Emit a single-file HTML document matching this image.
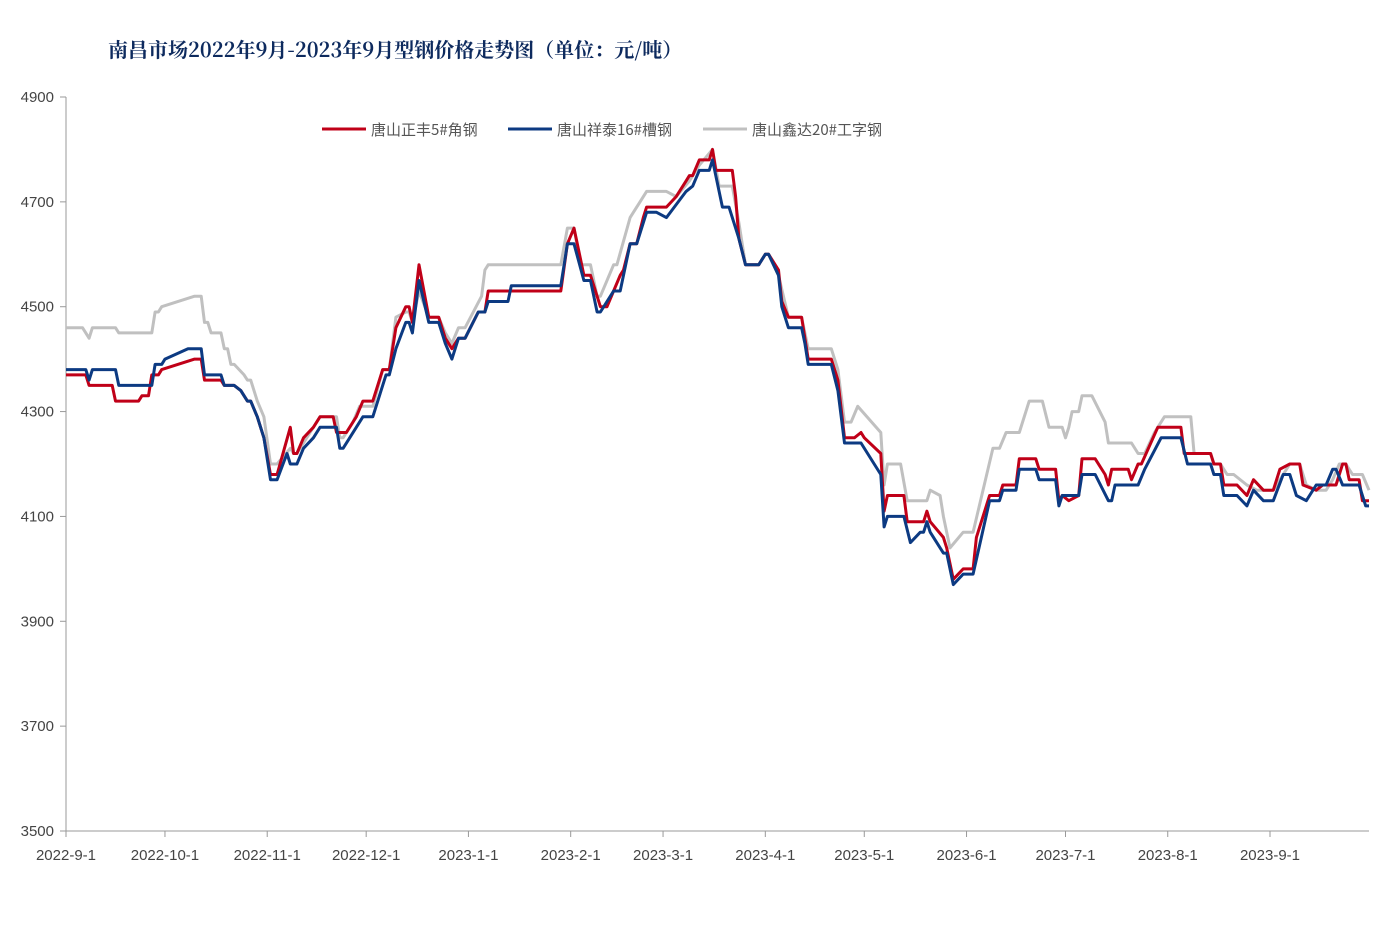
<!DOCTYPE html>
<html><head><meta charset="utf-8">
<style>
body{margin:0;background:#fff;}
svg{display:block;}
.tk{font-family:"Liberation Sans","Noto Sans CJK SC",sans-serif;font-size:15px;fill:#444;}
</style></head>
<body>
<svg id="chart" width="1393" height="929" xmlns="http://www.w3.org/2000/svg">
<text x="108" y="57" font-family="'Noto Serif CJK SC','Noto Sans CJK SC',serif" font-weight="bold" font-size="20" fill="#0d2a5e">南昌市场2022年9月-2023年9月型钢价格走势图（单位：元/吨）</text>
<g font-family="'Noto Sans CJK SC','Liberation Sans',sans-serif" font-size="15" fill="#555">
<g><line x1="322" y1="129" x2="366" y2="129" stroke="#c00018" stroke-width="3"/><text x="371" y="135">唐山正丰5#角钢</text></g>
<g><line x1="508" y1="129" x2="552" y2="129" stroke="#0c3a82" stroke-width="3"/><text x="557" y="135">唐山祥泰16#槽钢</text></g>
<g><line x1="703" y1="129" x2="747" y2="129" stroke="#c0c0c0" stroke-width="3"/><text x="752" y="135">唐山鑫达20#工字钢</text></g>
</g>
<g id="axes"></g>
<g id="series"></g>
</svg>
<script>
const yTicks=[3500,3700,3900,4100,4300,4500,4700,4900];
const xTickLabels=["2022-9-1","2022-10-1","2022-11-1","2022-12-1","2023-1-1","2023-2-1","2023-3-1","2023-4-1","2023-5-1","2023-6-1","2023-7-1","2023-8-1","2023-9-1"];
const xTickDays=[0,30,61,91,122,153,181,212,242,273,303,334,365];
// days since 2022-09-01
const angleDays=[0,6,7,14,15,22,23,25,26,28,29,39,41,42,47,48,51,53,55,56,58,60,62,64,68,69,70,72,75,77,81,82,85,88,90,93,96,98,100,103,104,105,107,110,113,115,117,119,121,125,127,128,150,152,154,155,157,159,161,162,164,166,168,169,171,173,175,176,182,185,188,189,190,192,195,196,197,202,203,204,206,210,212,213,216,217,219,223,225,232,234,236,239,241,242,247,248,249,254,255,260,261,262,266,267,269,272,275,276,280,283,284,288,289,294,295,300,301,302,304,307,308,312,315,316,317,322,323,325,326,331,338,339,347,348,350,351,355,358,360,363,366,368,371,374,375,379,381,385,387,388,389,392,393,395];
const angleVals=[4370,4370,4350,4350,4320,4320,4330,4330,4370,4370,4380,4400,4400,4360,4360,4350,4350,4340,4320,4320,4290,4250,4180,4180,4270,4220,4220,4250,4270,4290,4290,4260,4260,4290,4320,4320,4380,4380,4460,4500,4500,4470,4580,4480,4480,4440,4420,4440,4440,4490,4490,4530,4530,4620,4650,4620,4560,4560,4520,4500,4500,4530,4560,4570,4620,4620,4670,4690,4690,4710,4740,4750,4750,4780,4780,4800,4760,4760,4710,4630,4580,4580,4600,4600,4570,4510,4480,4480,4400,4400,4360,4250,4250,4260,4250,4220,4110,4140,4140,4090,4090,4110,4090,4060,4040,3980,4000,4000,4060,4140,4140,4160,4160,4210,4210,4190,4190,4130,4140,4130,4140,4210,4210,4180,4160,4190,4190,4170,4200,4200,4270,4270,4220,4220,4200,4200,4160,4160,4140,4170,4150,4150,4190,4200,4200,4160,4150,4160,4160,4200,4200,4170,4170,4130,4130];
const channelDays=[0,6,7,8,15,16,26,27,29,30,37,41,42,47,48,51,53,55,56,58,60,62,64,67,68,70,72,75,77,82,83,84,86,88,90,93,97,98,100,103,104,105,107,110,113,115,117,119,121,125,127,128,134,135,150,152,154,157,159,161,162,166,168,171,173,175,176,179,182,188,190,192,195,196,199,201,204,206,210,212,213,216,217,219,223,224,225,232,234,236,241,247,248,249,254,256,259,260,261,262,266,267,269,272,275,280,283,284,288,289,294,295,300,301,302,307,308,312,316,317,318,325,327,332,338,340,347,348,350,351,355,358,360,363,366,369,371,373,376,379,382,384,385,387,392,394,395];
const channelVals=[4380,4380,4360,4380,4380,4350,4350,4390,4390,4400,4420,4420,4370,4370,4350,4350,4340,4320,4320,4290,4250,4170,4170,4220,4200,4200,4230,4250,4270,4270,4230,4230,4250,4270,4290,4290,4370,4370,4420,4470,4470,4450,4550,4470,4470,4430,4400,4440,4440,4490,4490,4510,4510,4540,4540,4620,4620,4550,4550,4490,4490,4530,4530,4620,4620,4660,4680,4680,4670,4720,4730,4760,4760,4780,4690,4690,4630,4580,4580,4600,4600,4560,4500,4460,4460,4430,4390,4390,4340,4240,4240,4180,4080,4100,4100,4050,4070,4070,4090,4070,4030,4030,3970,3990,3990,4130,4130,4150,4150,4190,4190,4170,4170,4120,4140,4140,4180,4180,4130,4130,4160,4160,4190,4250,4250,4200,4200,4180,4180,4140,4140,4120,4150,4130,4130,4180,4180,4140,4130,4160,4160,4190,4190,4160,4160,4120,4120];
const ibeamDays=[0,5,7,8,15,16,26,27,28,29,39,41,42,43,44,47,48,49,50,51,54,55,56,58,60,62,64,68,69,70,74,77,82,83,84,87,89,93,96,98,100,103,104,105,107,110,113,115,117,119,121,126,127,128,150,152,154,156,159,161,162,166,167,171,174,176,182,185,189,192,196,198,202,204,206,210,212,213,216,219,223,225,232,234,236,238,240,247,248,249,253,255,261,262,265,266,268,272,275,281,283,285,289,292,296,298,302,303,304,305,307,308,311,315,316,323,325,327,330,333,341,342,347,348,350,352,354,358,361,366,371,374,376,379,382,384,386,388,390,393,395];
const ibeamVals=[4460,4460,4440,4460,4460,4450,4450,4490,4490,4500,4520,4520,4470,4470,4450,4450,4420,4420,4390,4390,4370,4360,4360,4320,4290,4200,4200,4230,4220,4220,4260,4290,4290,4250,4250,4280,4310,4310,4380,4380,4480,4490,4490,4470,4530,4480,4480,4450,4430,4460,4460,4520,4570,4580,4580,4650,4650,4580,4580,4520,4520,4580,4580,4670,4700,4720,4720,4710,4740,4770,4800,4730,4730,4660,4580,4580,4600,4600,4560,4480,4480,4420,4420,4380,4280,4280,4310,4260,4160,4200,4200,4130,4130,4150,4140,4100,4040,4070,4070,4230,4230,4260,4260,4320,4320,4270,4270,4250,4270,4300,4300,4330,4330,4280,4240,4240,4220,4220,4260,4290,4290,4220,4220,4200,4200,4180,4180,4160,4150,4150,4200,4200,4160,4150,4150,4170,4200,4200,4180,4180,4150];

const NS="http://www.w3.org/2000/svg";
const x0=66,pxPerDay=(1270-66)/365;
const xScale=d=>x0+d*pxPerDay;
const yScale=v=>831-(v-3500)*(831-97)/1400;
const axes=document.getElementById('axes');
function mk(tag,attrs,parent){const e=document.createElementNS(NS,tag);for(const k in attrs)e.setAttribute(k,attrs[k]);parent.appendChild(e);return e;}
const yAxis=mk('line',{x1:x0,y1:97,x2:x0,y2:831,stroke:'#999','stroke-width':1},axes);


const xAxis=mk('line',{x1:x0,y1:831,x2:1369,y2:831,stroke:'#999','stroke-width':1},axes);


yTicks.forEach(v=>{
  const y=yScale(v);
  mk('line',{x1:x0-6,y1:y,x2:x0,y2:y,stroke:'#999'},axes);
  const t=mk('text',{x:x0-12,y:y+5,'text-anchor':'end',class:'tk'},axes);
  t.textContent=v;
  
  
});
xTickDays.forEach((d,i)=>{
  const x=xScale(d);
  mk('line',{x1:x,y1:831,x2:x,y2:837,stroke:'#999'},axes);
  const t=mk('text',{x:x,y:860,'text-anchor':'middle',class:'tk'},axes);
  t.textContent=xTickLabels[i];
  
  
});
const sg=document.getElementById('series');
function line(days,vals,color,name){
  const pts=days.map((d,i)=>xScale(d).toFixed(1)+','+yScale(vals[i]).toFixed(1)).join(' ');
  const p=mk('polyline',{points:pts,fill:'none',stroke:color,'stroke-width':3,'stroke-linejoin':'round'},sg);
  
  
}
line(ibeamDays,ibeamVals,'#c0c0c0','series-ibeam');
line(angleDays,angleVals,'#c00018','series-angle-steel');
line(channelDays,channelVals,'#0c3a82','series-channel-steel');
</script>
</body></html>
